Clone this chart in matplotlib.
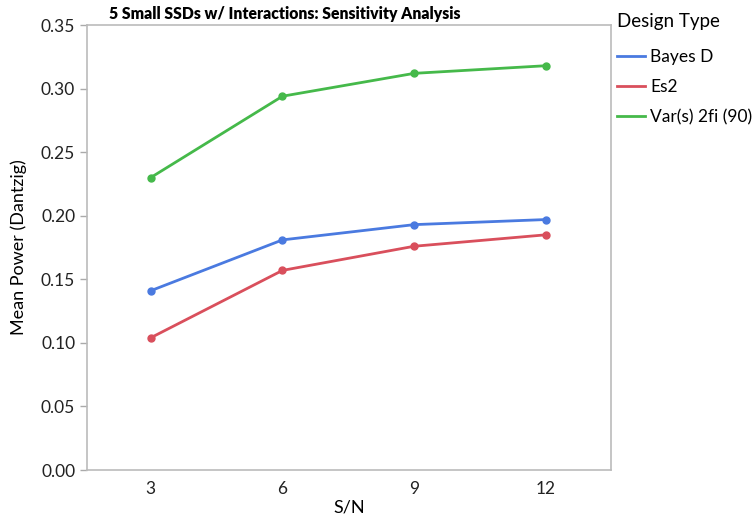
import matplotlib.pyplot as plt
from matplotlib.lines import Line2D

# Datos
sn = [3, 6, 9, 12]
bayesD = [0.141, 0.181, 0.193, 0.197]
es2 = [0.104, 0.157, 0.176, 0.185]
var2fi = [0.230, 0.294, 0.312, 0.318]
series_names = ["Bayes D", "Es2", "Var(s) 2fi (90)"]
colors = ["#4a7ae0", "#d94f5c", "#45b94a"]
yticks = [0.00, 0.05, 0.10, 0.15, 0.20, 0.25, 0.30, 0.35]

plt.rcParams['font.family'] = ['Lato', 'DejaVu Sans']

fig = plt.figure(figsize=(7.54, 5.17), dpi=100)
ax = fig.add_axes([0.1154, 0.0909, 0.6950, 0.8607])

for vals, c in zip([bayesD, es2, var2fi], colors):
    ax.plot(sn, vals, color=c, lw=2, marker='o', ms=5)

ax.set_xlim(1.55, 13.48)
ax.set_ylim(0, 0.35)
ax.set_xticks(sn)
ax.set_yticks(yticks)
ax.set_yticklabels(["%.2f" % v for v in yticks])
ax.tick_params(axis='x', length=0, labelsize=12.5, pad=8, colors='#222222')
ax.tick_params(axis='y', length=5, width=1, color='#aaaaaa', labelsize=12.5, colors='#222222')
for s in ax.spines.values():
    s.set_color('#bbbbbb')
    s.set_linewidth(1.2)

ax.set_xlabel("S/N", fontsize=13, labelpad=2)
ax.set_ylabel("Mean Power (Dantzig)", fontsize=13, labelpad=10)
fig.text(0.378, 0.972, "5 Small SSDs w/ Interactions: Sensitivity Analysis",
         ha='center', va='center', fontsize=11.3, fontweight='heavy')

handles = [Line2D([0], [0], color=c, lw=2) for c in colors]
leg = fig.legend(handles, series_names, title="Design Type", loc='upper left',
                 bbox_to_anchor=(0.812, 0.985), frameon=False, fontsize=12.5,
                 title_fontsize=13.5, handlelength=1.6, handletextpad=0.3,
                 labelspacing=0.8, borderaxespad=0, borderpad=0.3)
leg._legend_box.align = 'left'
leg._legend_box.sep = 14

fig.savefig("out.png", dpi=100)
